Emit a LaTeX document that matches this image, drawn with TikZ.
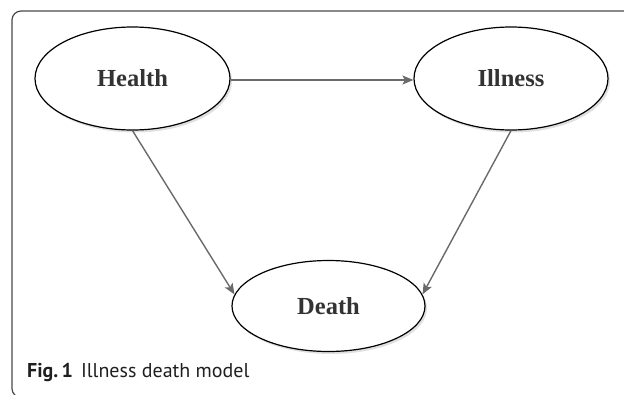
\documentclass[tikz,border=0pt]{standalone}
\usepackage{fontspec}
\setmainfont{Liberation Serif}
\newfontfamily\capfont{PT Sans}
\usetikzlibrary{shapes.geometric,arrows.meta,shadows}
\definecolor{txtgray}{HTML}{333333}
\definecolor{arrgray}{HTML}{6A6A6A}
\definecolor{framegray}{HTML}{4A4A4A}
\tikzset{
  state/.style={ellipse, draw=black, line width=1.2pt, fill=white, inner sep=0pt,
    font=\fontsize{24.5}{28}\selectfont\bfseries, text=txtgray,
    drop shadow={shadow xshift=2pt, shadow yshift=-2.5pt, fill=black, opacity=0.12}},
  trans/.style={draw=arrgray, line width=1.4pt, -{Stealth[length=11pt,width=9pt,inset=2.5pt]}},
}
\begin{document}
\begin{tikzpicture}[x=1pt,y=-1pt]
\useasboundingbox (0,0) rectangle (624,394);
\draw[framegray, line width=1.2pt, rounded corners=9pt] (640,11) -- (12,11) -- (12,397.5) -- (640,397.5);
\node[state, minimum width=195pt, minimum height=103pt] (health) at (132.5,78.5) {Health};
\node[state, minimum width=194pt, minimum height=103pt] (illness) at (511,78.5) {Illness};
\node[state, minimum width=193pt, minimum height=91pt] (death) at (328.5,306) {Death};
\draw[trans] (health.east |- 0,80) -- (illness.west |- 0,80);
\draw[trans] (health.south) -- (death.173);
\draw[trans] (illness.south) -- (death.7);
\node[anchor=base west, inner sep=0pt, text=black!88, font=\capfont\fontsize{20}{24}\selectfont] (cap) at (27,377) {\textbf{Fig.\,1}\hspace{8pt}Illness death model};
\end{tikzpicture}
\end{document}
